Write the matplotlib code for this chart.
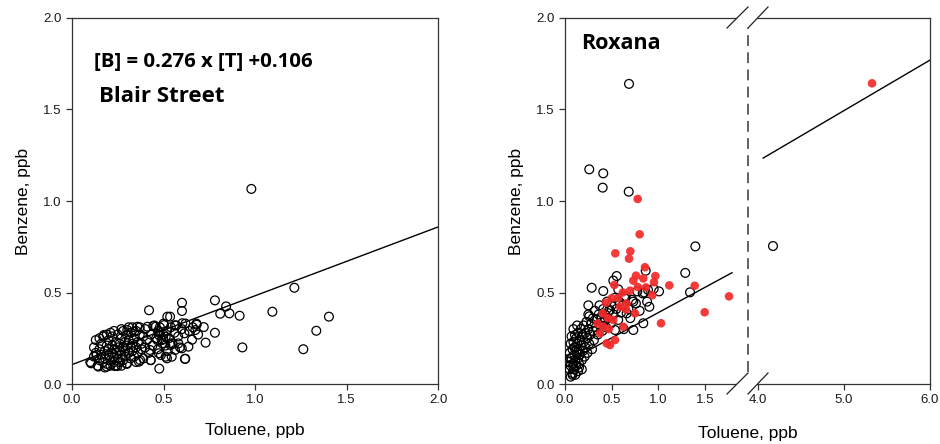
import matplotlib
matplotlib.use("Agg")
import matplotlib.pyplot as plt
from matplotlib.lines import Line2D
from matplotlib.patches import Polygon
import numpy as np

# ---------------- data ----------------
# Blair Street: toluene (x) and benzene (y), ppb
blair_tol = [
    0.10, 0.12, 0.13, 0.14, 0.15, 0.15, 0.16, 0.16, 0.17, 0.17, 0.18, 0.18, 0.18, 0.19, 0.19,
    0.20, 0.20, 0.20, 0.21, 0.21, 0.22, 0.22, 0.22, 0.23, 0.23, 0.23, 0.24, 0.24, 0.24, 0.25,
    0.25, 0.25, 0.26, 0.26, 0.26, 0.27, 0.27, 0.27, 0.28, 0.28, 0.28, 0.29, 0.29, 0.29, 0.30,
    0.30, 0.30, 0.31, 0.31, 0.31, 0.32, 0.32, 0.32, 0.33, 0.33, 0.33, 0.34, 0.34, 0.35, 0.35,
    0.35, 0.36, 0.36, 0.37, 0.37, 0.38, 0.38, 0.39, 0.39, 0.40, 0.40, 0.41, 0.42, 0.43, 0.43,
    0.44, 0.45, 0.46, 0.47, 0.47, 0.48, 0.49, 0.50, 0.50, 0.51, 0.52, 0.53, 0.54, 0.55, 0.56,
    0.57, 0.58, 0.60, 0.62, 0.64, 0.66, 0.68, 0.13, 0.15, 0.12, 0.175, 0.23, 0.19, 0.27, 0.21,
    0.98, 1.215, 1.095, 1.404, 1.335, 1.264, 0.931, 0.781, 0.842, 0.81, 0.86, 0.916, 0.781,
    0.73, 0.72, 0.681, 0.674, 0.656, 0.689, 0.601, 0.601, 0.521, 0.603, 0.614, 0.636, 0.619,
    0.477, 0.421, 0.563, 0.59, 0.523, 0.519, 0.486, 0.545, 0.412, 0.444, 0.481, 0.499, 0.466,
    0.426, 0.372, 0.104, 0.135, 0.144, 0.19, 0.235, 0.299, 0.536, 0.581, 0.6, 0.563, 0.545,
    0.617, 0.457, 0.503, 0.357, 0.339, 0.302, 0.475, 0.512, 0.493, 0.539, 0.475, 0.512, 0.43,
    0.366, 0.248,
]
blair_ben = [
    0.12, 0.15, 0.17, 0.10, 0.13, 0.19, 0.16, 0.22, 0.12, 0.26, 0.09, 0.18, 0.14, 0.21, 0.11,
    0.16, 0.24, 0.19, 0.13, 0.10, 0.17, 0.21, 0.26, 0.15, 0.12, 0.19, 0.23, 0.10, 0.17, 0.20,
    0.14, 0.27, 0.12, 0.18, 0.22, 0.16, 0.25, 0.10, 0.20, 0.13, 0.29, 0.18, 0.23, 0.15, 0.21,
    0.11, 0.27, 0.17, 0.24, 0.31, 0.14, 0.20, 0.28, 0.22, 0.18, 0.31, 0.25, 0.15, 0.20, 0.29,
    0.12, 0.23, 0.17, 0.27, 0.31, 0.19, 0.22, 0.26, 0.14, 0.20, 0.30, 0.24, 0.17, 0.13, 0.27,
    0.21, 0.32, 0.25, 0.29, 0.19, 0.31, 0.24, 0.27, 0.33, 0.21, 0.29, 0.25, 0.31, 0.22, 0.28,
    0.32, 0.26, 0.30, 0.33, 0.29, 0.31, 0.33, 0.24, 0.25, 0.20, 0.268, 0.29, 0.27, 0.30, 0.28,
    1.066, 0.526, 0.395, 0.368, 0.291, 0.19, 0.20, 0.457, 0.424, 0.384, 0.386, 0.373, 0.28,
    0.226, 0.311, 0.324, 0.295, 0.242, 0.27, 0.444, 0.399, 0.368, 0.332, 0.277, 0.204, 0.138,
    0.084, 0.403, 0.321, 0.20, 0.18, 0.14, 0.158, 0.222, 0.313, 0.317, 0.277, 0.244, 0.24,
    0.186, 0.131, 0.113, 0.158, 0.095, 0.095, 0.098, 0.113, 0.368, 0.222, 0.195, 0.186, 0.149,
    0.137, 0.313, 0.322, 0.313, 0.286, 0.295, 0.268, 0.258, 0.222, 0.213, 0.168, 0.149, 0.131,
    0.122, 0.098,
]

# Roxana, open markers
rox_tol = [
    0.04, 0.05, 0.05, 0.06, 0.06, 0.07, 0.07, 0.08, 0.08, 0.09, 0.09, 0.10, 0.10, 0.11, 0.11,
    0.12, 0.12, 0.13, 0.13, 0.14, 0.14, 0.15, 0.15, 0.16, 0.16, 0.17, 0.17, 0.18, 0.18, 0.19,
    0.20, 0.20, 0.21, 0.22, 0.22, 0.23, 0.24, 0.24, 0.25, 0.26, 0.26, 0.27, 0.28, 0.29, 0.30,
    0.30, 0.31, 0.32, 0.33, 0.34, 0.35, 0.36, 0.37, 0.38, 0.39, 0.40, 0.41, 0.42, 0.43, 0.44,
    0.45, 0.46, 0.47, 0.49, 0.50, 0.52, 0.53, 0.55, 0.57, 0.58, 0.60, 0.62, 0.63, 0.65, 0.68,
    0.70, 0.72, 0.76, 0.80, 0.85, 0.88, 0.95, 0.25, 0.25, 0.19, 0.13, 0.09, 0.089, 0.054, 0.107,
    0.08, 0.11, 0.14, 0.06, 0.10, 0.15, 0.12, 0.18,
    0.26, 0.41, 0.404, 0.683, 0.686, 1.397, 0.865, 1.289, 1.34, 0.286, 0.41, 0.554, 0.518,
    0.571, 0.775, 0.89, 1.008, 0.833, 0.643, 0.732, 0.904, 0.661, 0.482, 0.839, 0.732, 0.536,
    4.174,
]
rox_ben = [
    0.12, 0.08, 0.17, 0.22, 0.10, 0.14, 0.26, 0.06, 0.19, 0.11, 0.23, 0.16, 0.08, 0.20, 0.13,
    0.25, 0.10, 0.17, 0.22, 0.14, 0.28, 0.19, 0.11, 0.24, 0.16, 0.21, 0.30, 0.13, 0.26, 0.18,
    0.23, 0.32, 0.15, 0.28, 0.20, 0.34, 0.25, 0.17, 0.30, 0.37, 0.22, 0.27, 0.33, 0.19, 0.36,
    0.29, 0.24, 0.40, 0.31, 0.35, 0.27, 0.38, 0.43, 0.32, 0.36, 0.29, 0.41, 0.34, 0.38, 0.31,
    0.45, 0.36, 0.40, 0.33, 0.43, 0.38, 0.47, 0.41, 0.35, 0.45, 0.39, 0.43, 0.30, 0.48, 0.41,
    0.36, 0.46, 0.44, 0.40, 0.50, 0.45, 0.52, 0.43, 0.38, 0.27, 0.32, 0.30, 0.095, 0.14, 0.268,
    0.05, 0.05, 0.07, 0.04, 0.20, 0.09, 0.18, 0.08,
    1.173, 1.151, 1.073, 1.051, 1.64, 0.752, 0.619, 0.607, 0.501, 0.526, 0.508, 0.59, 0.565,
    0.517, 0.506, 0.514, 0.506, 0.495, 0.468, 0.45, 0.422, 0.386, 0.404, 0.332, 0.295, 0.295,
    0.754,
]

# Roxana, filled (red) markers
rox_red_tol = [
    0.779, 0.80, 0.539, 0.70, 0.686, 0.857, 0.968, 0.954, 0.761, 0.732, 0.839, 1.118, 1.39,
    1.758, 1.497, 1.029, 0.528, 0.697, 0.868, 0.936, 0.50, 0.44, 0.59, 0.654, 0.75, 0.518,
    0.625, 0.447, 0.536, 0.404, 0.41, 0.375, 0.482, 0.46, 0.57, 0.62, 0.78, 0.66, 0.35, 0.47,
    5.326,
]
rox_red_ben = [
    1.011, 0.818, 0.714, 0.725, 0.685, 0.638, 0.59, 0.556, 0.592, 0.565, 0.577, 0.539, 0.537,
    0.479, 0.392, 0.332, 0.541, 0.51, 0.528, 0.485, 0.468, 0.444, 0.422, 0.408, 0.386, 0.35,
    0.313, 0.222, 0.24, 0.386, 0.313, 0.277, 0.213, 0.36, 0.47, 0.50, 0.53, 0.44, 0.33, 0.30,
    1.643,
]

# regression lines (slope, intercept) as drawn
blair_fit = (0.376, 0.106)
rox_fit = (0.276, 0.114)
rox_fit_x_left = [0.0, 1.79]
rox_fit_x_right = [4.06, 6.0]

yticks = [0.0, 0.5, 1.0, 1.5, 2.0]
left_xticks = [0.0, 0.5, 1.0, 1.5, 2.0]
rox_xticks_left = [0.0, 0.5, 1.0, 1.5]
rox_xticks_right = [4.0, 5.0, 6.0]

# ---------------- figure ----------------
W, H = 940, 444
fig = plt.figure(figsize=(W / 100, H / 100), dpi=100)

def fr(x0, y0, x1, y1):
    # pixel box -> figure fraction rect
    return [x0 / W, 1 - y1 / H, (x1 - x0) / W, (y1 - y0) / H]

label_font = dict(family="Liberation Sans", size=12.5)
spine_col = "#333333"
bold_family = "Open Sans"

def style(ax):
    ax.tick_params(direction="out", length=4, width=0.9, colors=spine_col,
                   labelcolor="#1a1a1a", labelsize=9.5)
    for lab in ax.get_xticklabels() + ax.get_yticklabels():
        lab.set_family("Liberation Sans")
    for s in ax.spines.values():
        s.set_color(spine_col)
        s.set_linewidth(0.9)

open_kw = dict(s=40, facecolors="none", edgecolors="black", linewidths=0.9, zorder=3)
red_kw = dict(s=38, c="#f42a2a", edgecolors="none", alpha=0.92, zorder=4)

# ---- left panel ----
ax1 = fig.add_axes(fr(72, 18, 438, 384))
ax1.scatter(blair_tol, blair_ben, **open_kw)
xl = np.array([0.0, 2.0])
ax1.plot(xl, blair_fit[0] * xl + blair_fit[1], color="black", lw=1.0, zorder=2)
ax1.set_xlim(0, 2.0)
ax1.set_ylim(0, 2.0)
ax1.set_xticks(left_xticks)
ax1.set_yticks(yticks)
ax1.set_xticklabels([f"{v:.1f}" for v in left_xticks])
ax1.set_yticklabels([f"{v:.1f}" for v in yticks])
style(ax1)
ax1.set_xlabel("Toluene, ppb", fontdict=label_font, labelpad=12)
ax1.set_ylabel("Benzene, ppb", fontdict=label_font, labelpad=9)
ax1.text(0.06, 0.88, "[B] = 0.276 x [T] +0.106", transform=ax1.transAxes,
         family=bold_family, weight="bold", size=14.7, va="center", ha="left")
ax1.text(0.075, 0.785, "Blair Street", transform=ax1.transAxes,
         family=bold_family, weight="bold", size=16, va="center", ha="left")

# ---- right panel (broken x axis) ----
xa, xb, xc = 565, 748, 930
ax2 = fig.add_axes(fr(xa, 18, xb, 384))
ax3 = fig.add_axes(fr(xb, 18, xc, 384))
for ax in (ax2, ax3):
    ax.scatter(rox_tol, rox_ben, **open_kw)
    ax.scatter(rox_red_tol, rox_red_ben, **red_kw)
    ax.set_ylim(0, 2.0)
x2 = np.array(rox_fit_x_left)
ax2.plot(x2, rox_fit[0] * x2 + rox_fit[1], color="black", lw=1.0, zorder=2)
x3 = np.array(rox_fit_x_right)
ax3.plot(x3, rox_fit[0] * x3 + rox_fit[1], color="black", lw=1.0, zorder=2)

ax2.set_xlim(0, (xb - xa) / 93.3)
ax3.set_xlim(6.0 - (xc - xb) / 86.0, 6.0)
ax2.set_xticks(rox_xticks_left)
ax2.set_xticklabels([f"{v:.1f}" for v in rox_xticks_left])
ax3.set_xticks(rox_xticks_right)
ax3.set_xticklabels([f"{v:.1f}" for v in rox_xticks_right])
ax2.set_yticks(yticks)
ax2.set_yticklabels([f"{v:.1f}" for v in yticks])
ax3.set_yticks([])
style(ax2)
style(ax3)
ax2.spines["right"].set_visible(False)
ax3.spines["left"].set_visible(False)
ax2.set_ylabel("Benzene, ppb", fontdict=label_font, labelpad=9)
ax2.text(0.09, 0.93, "Roxana", transform=ax2.transAxes,
         family=bold_family, weight="bold", size=15.5, va="center", ha="left")
fig.text((xa + xc) / 2 / W, 1 - 433 / H, "Toluene, ppb", ha="center", va="center",
         **label_font)

# dashed separator
fig.add_artist(Line2D([xb / W, xb / W], [1 - 18 / H, 1 - 372 / H], transform=fig.transFigure,
                      color="#555555", lw=1.3, dashes=(6, 3.5), zorder=5))

# break marks (top and bottom)
def brk(yc):
    d = 10.5
    p1 = [(xb - 21 + 0, yc + d), (xb - 0, yc - d)]
    p2 = [(xb + 0, yc + d), (xb + 20, yc - d)]
    poly = [p1[0], p1[1], p2[1], p2[0]]
    fig.add_artist(Polygon([(x / W, 1 - y / H) for x, y in poly], closed=True,
                           transform=fig.transFigure, facecolor="white", edgecolor="none",
                           zorder=6))
    for p in (p1, p2):
        fig.add_artist(Line2D([p[0][0] / W, p[1][0] / W], [1 - p[0][1] / H, 1 - p[1][1] / H],
                              transform=fig.transFigure, color="#222222", lw=0.9, zorder=7))

brk(17.5)
brk(383.5)

fig.savefig("out.png", dpi=100)
